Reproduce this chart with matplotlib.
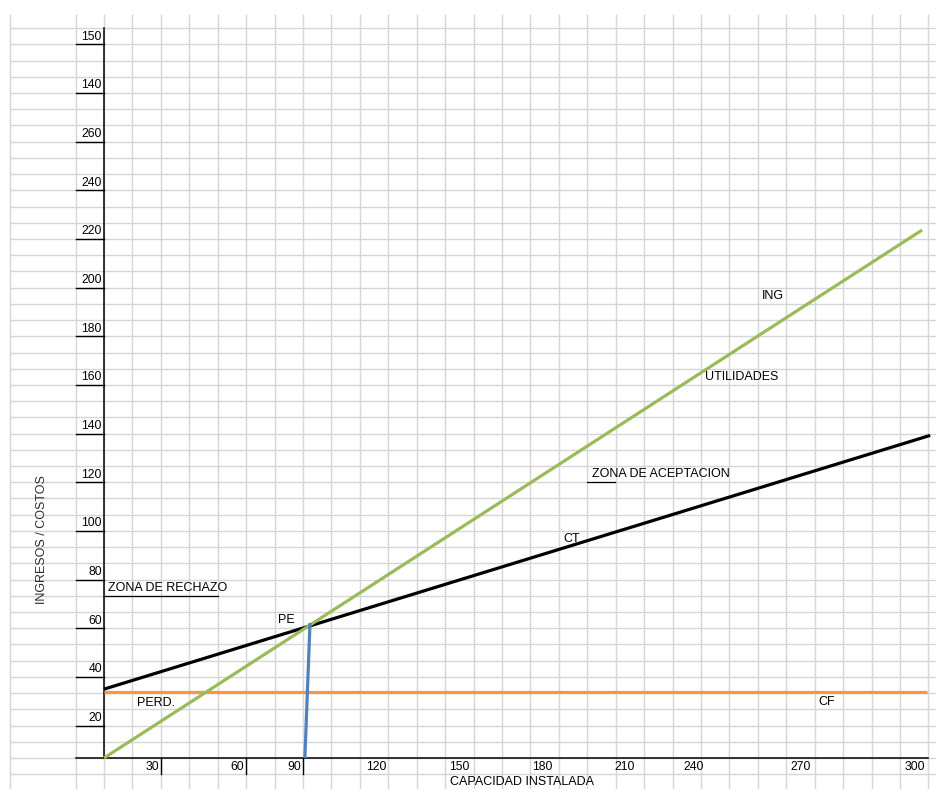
import numpy as np
import matplotlib
matplotlib.use('Agg')
import matplotlib.pyplot as plt

plt.rcParams['font.family'] = ['Liberation Sans', 'DejaVu Sans']

# -------------------------------
# Data
# -------------------------------

# ingresos (ING) line, from origin
ing_x = [0, 303]
ing_y = [0, 217]

# costo total (CT)
ct_x = [0, 306]
ct_y = [28.3, 132.6]

# costo fijo (CF)
cf_x = [0, 305]
cf_y = [27.1, 27.1]

# punto de equilibrio drop line
pe_x = [74.4, 76.3]
pe_y = [0, 55.5]

# axis labels as typed in the sheet cells
y_labels = ['20', '40', '60', '80', '100', '120', '140', '160', '180',
            '200', '220', '240', '260', '140', '150']
x_labels = ['30', '60', '90', '120', '150', '180', '210', '240', '270', '300']

# -------------------------------
# Sheet geometry (pixels)
# -------------------------------

W, H = 936, 789
X0, Y0 = 104, 758          # where the axes cross
SX, SY = 2.7, 2.433        # px per data unit
COL, ROW = 28.43, 16.22    # cell size


def px2x(p):
    return (p - X0) / SX


def py2y(p):
    return (Y0 - p) / SY


fig = plt.figure(figsize=(W / 100, H / 100), dpi=100)
ax = fig.add_axes([0, 0, 1, 1])
ax.set_xlim(px2x(0), px2x(W))
ax.set_ylim(py2y(H), py2y(0))
ax.axis('off')

# spreadsheet grid
grid_c = '#d6d6d6'
col_px = [10, 76] + [X0 + COL * k for k in range(30)]
row_px = [Y0 - ROW * k for k in range(-1, 46)]
ax.vlines([px2x(p) for p in col_px], py2y(H), py2y(14), color=grid_c, lw=1.0, zorder=0)
ax.hlines([py2y(p) for p in row_px], px2x(10), px2x(W), color=grid_c, lw=1.0, zorder=0)

# axes drawn as cell borders
ax.plot([px2x(X0), px2x(X0)], [py2y(28), 0], color='black', lw=1.1, zorder=2)
ax.plot([px2x(76), px2x(928)], [0, 0], color='black', lw=1.1, zorder=2)

# y labels with underline every 3 rows (first one 2 rows)
for i, lab in enumerate(y_labels):
    py = Y0 - ROW * (2 + 3 * i)
    ax.plot([px2x(76), px2x(X0)], [py2y(py), py2y(py)], color='black', lw=1.0, zorder=2)
    ax.text(px2x(102), py2y(py - 7.5), lab, ha='right', va='center', fontsize=8.8)

# x labels
x_lab_px = [152, 237, 294, 376, 459, 542, 625, 694, 801, 915]
for lab, p in zip(x_labels, x_lab_px):
    ax.text(px2x(p), py2y(767), lab, ha='center', va='center', fontsize=8.8)
for col in [2, 5, 7]:
    p = X0 + COL * col
    ax.plot([px2x(p), px2x(p)], [0, py2y(774)], color='black', lw=1.0, zorder=2)

# small cell borders under some labels
ax.plot([px2x(104), px2x(218)], [py2y(595.8), py2y(595.8)], color='black', lw=0.9, zorder=2)
ax.plot([px2x(587), px2x(615)], [py2y(482.3), py2y(482.3)], color='black', lw=0.9, zorder=2)

# -------------------------------
# Lines
# -------------------------------

ax.plot(cf_x, cf_y, color='#f79646', lw=2.3, solid_capstyle='butt', zorder=3)
ax.plot(ct_x, ct_y, color='black', lw=2.3, solid_capstyle='butt', zorder=4)
ax.plot(ing_x, ing_y, color='#9bbb59', lw=2.3, solid_capstyle='butt', zorder=5)
ax.plot(pe_x, pe_y, color='#4f81bd', lw=2.3, solid_capstyle='butt', zorder=6)

# -------------------------------
# Annotations
# -------------------------------

notes = [
    ('ZONA DE RECHAZO', 108, 588),
    ('PE', 278, 620),
    ('PERD.', 137, 703),
    ('CT', 563, 539),
    ('ZONA DE ACEPTACION', 592, 474),
    ('UTILIDADES', 705, 377),
    ('ING', 762, 296),
    ('CF', 818, 702),
    ('CAPACIDAD INSTALADA', 450, 782),
]
for txt, px, py in notes:
    ax.text(px2x(px), py2y(py), txt, ha='left', va='center', fontsize=9, zorder=7)

ax.text(px2x(42), py2y(540), 'INGRESOS / COSTOS', rotation=90, ha='center', va='center',
        fontsize=9, color='#2a2a36')

fig.savefig('out.png', dpi=100)
